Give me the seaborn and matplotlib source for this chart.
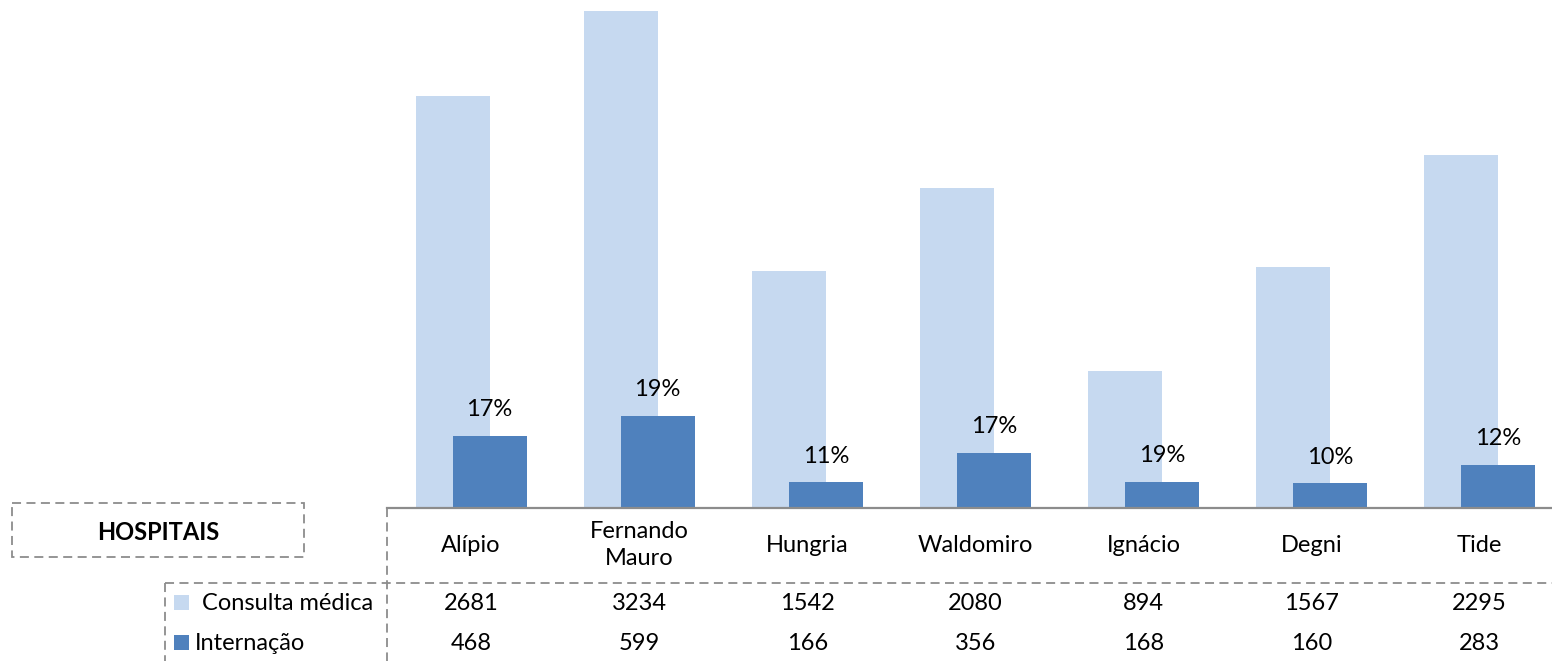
import numpy as np
import matplotlib
matplotlib.use("Agg")
import matplotlib.pyplot as plt
import matplotlib.transforms as mtransforms
from matplotlib.patches import Rectangle
import seaborn as sns


# DATA
hospitais = ["Alípio", "Fernando\nMauro", "Hungria", "Waldomiro", "Ignácio", "Degni", "Tide"]
consulta = [2681, 3234, 1542, 2080, 894, 1567, 2295]
internacao = [468, 599, 166, 356, 168, 160, 283]
series_names = ["Consulta médica", "Internação"]


# STYLE
sns.set_style("white")
plt.rcParams["font.family"] = ["Lato", "DejaVu Sans"]
plt.rcParams["text.color"] = "black"

LIGHT = "#C6D9F0"
DARK = "#4F81BD"
GRID = "#8c8c8c"
FS = 17
W, H = 1552, 661


# FIGURE
fig = plt.figure(figsize=(W / 100, H / 100), dpi=100)

ax = fig.add_axes([387 / W, (H - 508) / H, (1552 - 387) / W, 508 / H])

x_pos = np.arange(len(hospitais))

sns.barplot(
    x=x_pos - 0.11,
    y=consulta,
    native_scale=True,
    width=0.44,
    color=LIGHT,
    saturation=1,
    linewidth=0,
    ax=ax
)

sns.barplot(
    x=x_pos + 0.11,
    y=internacao,
    native_scale=True,
    width=0.44,
    color=DARK,
    saturation=1,
    linewidth=0,
    ax=ax
)

ax.set_xlim(-0.5, 6.43)
ax.set_ylim(0, 3306)
ax.set_xticks([])
ax.set_yticks([])
ax.set_xlabel("")
ax.set_ylabel("")

for side in ["top", "right", "left"]:
    ax.spines[side].set_visible(False)
ax.spines["bottom"].set_color(GRID)
ax.spines["bottom"].set_linewidth(1.6)


# PERCENT LABELS
for i in range(len(hospitais)):
    pct = internacao[i] / consulta[i]
    ax.annotate(
        "{:.0%}".format(pct),
        (x_pos[i] + 0.11, internacao[i]),
        xytext=(0, 19),
        textcoords="offset points",
        ha="center",
        va="center",
        fontsize=FS
    )


# DATA TABLE
tax = fig.add_axes([0, 0, 1, 1])
tax.set_xlim(0, W)
tax.set_ylim(H, 0)
tax.axis("off")
tax.patch.set_alpha(0)

dash = dict(color=GRID, lw=1.3, linestyle=(0, (5, 3)))

tax.add_patch(Rectangle((12, 503), 292, 54, fill=False, edgecolor=GRID, lw=1.3, linestyle=(0, (5, 3))))
tax.text(158, 532, "HOSPITAIS", ha="center", va="center", fontsize=FS, fontweight="bold")

tax.plot([387, 387], [508, H], **dash)
tax.plot([165, W], [583, 583], **dash)
tax.plot([165, 165], [583, H], **dash)

mixed = mtransforms.blended_transform_factory(ax.transData, tax.transData)

for i, name in enumerate(hospitais):
    tax.text(x_pos[i], 545, name, transform=mixed, ha="center", va="center",
             fontsize=FS, linespacing=1.3)
    tax.text(x_pos[i], 603, str(consulta[i]), transform=mixed, ha="center", va="center", fontsize=FS)
    tax.text(x_pos[i], 643, str(internacao[i]), transform=mixed, ha="center", va="center", fontsize=FS)

# legend keys
tax.add_patch(Rectangle((174, 595), 15, 15, color=LIGHT, lw=0))
tax.text(202, 603, series_names[0], ha="left", va="center", fontsize=FS)
tax.add_patch(Rectangle((174, 635), 15, 15, color=DARK, lw=0))
tax.text(195, 643, series_names[1], ha="left", va="center", fontsize=FS)


# SAVE
fig.savefig("out.png", dpi=100)
